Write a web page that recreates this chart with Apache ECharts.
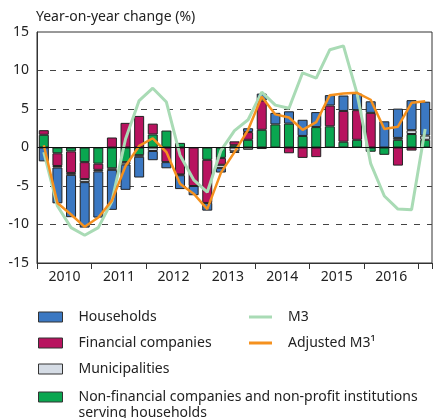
<!DOCTYPE html>
<html>
<head>
<meta charset="utf-8">
<script src="https://cdn.jsdelivr.net/npm/echarts@6/dist/echarts.min.js"></script>
<style>
html, body { margin: 0; padding: 0; background: #fff; }
#chart { width: 434px; height: 418px; }
</style>
</head>
<body>
<div id="chart"></div>
<script>
// quarters 2010 Q1 .. 2017 Q1
var quarters = ['2010 Q1','2010 Q2','2010 Q3','2010 Q4','2011 Q1','2011 Q2','2011 Q3','2011 Q4',
                '2012 Q1','2012 Q2','2012 Q3','2012 Q4','2013 Q1','2013 Q2','2013 Q3','2013 Q4',
                '2014 Q1','2014 Q2','2014 Q3','2014 Q4','2015 Q1','2015 Q2','2015 Q3','2015 Q4',
                '2016 Q1','2016 Q2','2016 Q3','2016 Q4','2017 Q1'];
var yTicks = [-15, -10, -5, 0, 5, 10, 15];

// contributions, percentage points
var nonFinancial = [1.65,-0.75,-0.5,-1.9,-2.1,-2.7,-1.9,-1.0,1.7,2.2,0.6,null,-1.6,-1.35,0.3,1.0,2.3,3.0,3.1,1.5,2.65,2.75,0.75,1.0,-0.55,-0.95,1.0,1.75,1.0];
var financial = [0.6,-1.65,-2.8,-2.2,-0.8,1.3,3.2,4.1,1.4,-1.9,-3.5,-5.0,-5.6,-0.9,0.5,1.0,3.8,null,-0.75,-1.35,-1.25,2.7,4.0,3.85,4.5,null,-2.35,-0.4,null];
var municipalities = [null,-0.2,-0.25,-0.4,-0.2,-0.2,-0.3,-0.2,-0.45,null,-0.1,null,null,-0.4,-0.5,-0.3,-0.2,null,null,null,null,null,null,null,null,null,0.25,0.5,0.55];
var households = [-1.8,-4.65,-5.5,-5.9,-6.0,-5.2,-3.3,-2.7,-1.2,-0.8,-1.8,-1.2,-1.0,-0.6,-0.2,0.5,0.9,1.5,1.6,2.1,1.95,1.35,2.0,2.15,1.5,3.4,3.8,3.9,4.4];
var m3 = [-0.6,-7.6,-10.4,-11.4,-10.4,-7.0,1.1,6.1,7.7,5.9,-1.0,-4.2,-5.8,-0.4,2.2,3.6,7.2,5.5,5.1,9.7,9.0,12.7,13.2,7.0,-2.1,-6.3,-8.0,-8.1,2.4];
var adjustedM3 = [0.3,-7.2,-8.7,-10.3,-9.1,-6.9,-2.4,0.2,1.2,-0.6,-4.7,-6.0,-8.0,-3.3,-0.6,2.3,6.6,4.3,3.9,2.3,3.3,6.8,7.0,7.1,6.2,2.4,2.7,5.8,6.0];

var font = 'Noto Sans';
var txt = '#222';
var nfName = 'Non-financial companies and non-profit institutions serving households';

var myChart = echarts.init(document.getElementById('chart'));

function barSeries(name, data, color) {
    return {
        name: name,
        type: 'bar',
        stack: 'total',
        barWidth: 10,
        data: data,
        itemStyle: { color: color, borderColor: '#222', borderWidth: 1 }
    };
}

var hh = barSeries('Households', households, '#3b78c2');
// solid zero line
hh.markLine = {
    silent: true,
    symbol: 'none',
    label: { show: false },
    lineStyle: { color: '#111', type: 'solid', width: 1 },
    data: [{ yAxis: 0 }]
};

var legendText = { fontFamily: font, fontSize: 14, color: txt, lineHeight: 16, padding: [0, 0, 0, 11] };
var legendBase = {
    orient: 'vertical',
    padding: 0,
    itemWidth: 24,
    itemHeight: 10,
    itemGap: 10,
    icon: 'rect',
    itemStyle: { borderColor: '#333', borderWidth: 1 },
    textStyle: legendText
};

var option = {
    animation: false,
    title: {
        text: 'Year-on-year change (%)',
        left: 36,
        top: 10,
        padding: 0,
        textStyle: { fontFamily: font, fontSize: 14, fontWeight: 'normal', color: txt }
    },
    legend: [
        Object.assign({}, legendBase, {
            left: 38, top: 309,
            data: ['Households', 'Financial companies', 'Municipalities']
        }),
        Object.assign({}, legendBase, {
            left: 38, top: 373,
            data: [nfName],
            // empty first line keeps the text's first line level with the swatch
            formatter: function () {
                return '\nNon-financial companies and non-profit institutions\nserving households';
            }
        }),
        {
            orient: 'vertical',
            padding: 0,
            left: 249, top: 309,
            itemWidth: 23,
            itemHeight: 3,
            itemGap: 10,
            icon: 'rect',
            data: ['M3', 'Adjusted M3¹'],
            textStyle: legendText
        }
    ],
    grid: {
        left: 37, right: 2, top: 32, bottom: 155,
        show: true, borderColor: '#333', borderWidth: 1, backgroundColor: 'transparent'
    },
    xAxis: {
        type: 'category',
        data: quarters,
        boundaryGap: true,
        axisLine: { onZero: false, lineStyle: { color: '#333' } },
        axisTick: {
            show: true, length: 6,
            interval: function (i) { return i % 4 === 0; },
            lineStyle: { color: '#333' }
        },
        axisLabel: {
            interval: function (i) { return i % 4 === 1; },
            formatter: function (v) { return v.slice(0, 4); },
            padding: [0, 0, 0, 14],
            margin: 7,
            fontFamily: font, fontSize: 14, color: txt
        },
        splitLine: { show: false }
    },
    yAxis: {
        type: 'value',
        min: yTicks[0],
        max: yTicks[yTicks.length - 1],
        interval: 5,
        axisLine: { show: true, lineStyle: { color: '#333' } },
        axisTick: { show: false },
        axisLabel: { margin: 8, fontFamily: font, fontSize: 14, color: txt },
        splitLine: {
            show: true,
            lineStyle: {
                type: [6, 7],
                width: 1,
                color: ['rgba(0,0,0,0)', '#444', '#444', 'rgba(0,0,0,0)', '#444', '#444', 'rgba(0,0,0,0)']
            }
        }
    },
    series: [
        barSeries(nfName, nonFinancial, '#0aa650'),
        barSeries('Financial companies', financial, '#b8135f'),
        barSeries('Municipalities', municipalities, '#d5dce5'),
        hh,
        {
            name: 'M3',
            type: 'line',
            symbol: 'none',
            data: m3,
            itemStyle: { color: '#a9dbb5' },
            lineStyle: { color: '#a9dbb5', width: 3 }
        },
        {
            name: 'Adjusted M3¹',
            type: 'line',
            symbol: 'none',
            data: adjustedM3,
            itemStyle: { color: '#f5911e' },
            lineStyle: { color: '#f5911e', width: 2.5 }
        }
    ]
};
myChart.setOption(option, true);
</script>
</body>
</html>
